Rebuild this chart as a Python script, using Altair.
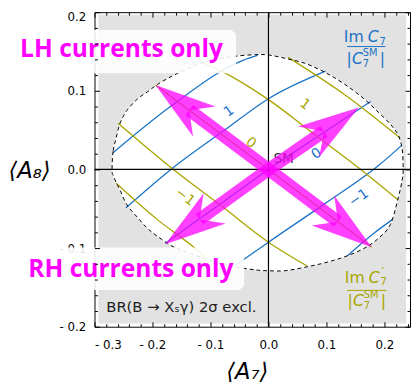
import math
import altair as alt
import pandas as pd

FONT = "DejaVu Sans"
X_DOMAIN = [-0.3, 0.2441]
Y_DOMAIN = [-0.2, 0.2]
WIDTH, HEIGHT = 321, 320

# excluded (grey) region and the allowed ellipse
excl_x = [-0.2932, 0.2373]
excl_y = [-0.196, 0.1966]

ell_x = [-0.2695, -0.2678, -0.2627, -0.2559, -0.2441, -0.2254, -0.2085, -0.1915, -0.1661, -0.1407,
         -0.1153, -0.0898, -0.0559, -0.0220, 0.0, 0.0288, 0.0627, 0.0966, 0.1305, 0.1644,
         0.1898, 0.2102, 0.2237, 0.2305, 0.2322]
ell_top = [0.0075, 0.0238, 0.04, 0.0588, 0.075, 0.09, 0.0988, 0.1081, 0.1188, 0.1275,
           0.1356, 0.14, 0.1441, 0.146, 0.1456, 0.1413, 0.135, 0.1238, 0.1088, 0.09,
           0.0725, 0.0575, 0.0438, 0.0263, 0.0075]
ell_bot = [-0.0038, -0.0075, -0.0163, -0.0263, -0.045, -0.0613, -0.075, -0.085, -0.0975, -0.105,
           -0.1119, -0.1175, -0.1238, -0.1278, -0.1288, -0.1288, -0.1244, -0.1188, -0.1113, -0.1006,
           -0.0875, -0.07, -0.0363, -0.0138, -0.0038]

# contours of Im C7 / |C7^SM| (blue)
blue_levels = [2, 1, 0, -1, -2]
blue_x = [[-0.268, -0.169, -0.044, -0.019],
          [-0.2458, -0.1661, -0.078, 0.0, 0.0983],
          [-0.178, -0.0898, 0.0, 0.0915, 0.1763],
          [-0.0559, 0.0, 0.0966, 0.1898, 0.2288],
          [0.1356, 0.1814, 0.2136]]
blue_y = [[0.0213, 0.08, 0.1388, 0.145],
          [-0.0488, 0.0013, 0.0488, 0.09, 0.125],
          [-0.0938, -0.0475, 0.0, 0.045, 0.0863],
          [-0.1213, -0.0925, -0.0438, 0.005, 0.03],
          [-0.11, -0.0813, -0.0638]]

# contours of Im C7' / |C7^SM| (olive)
olive_levels = [2, 1, 0, -1, -2]
olive_x = [[0.0339, 0.1339, 0.2271],
           [-0.1153, -0.0847, 0.0, 0.0763, 0.1525, 0.2237],
           [-0.1949, 0.0, 0.178],
           [-0.2593, -0.1661, -0.0814, 0.0, 0.0661],
           [-0.2627, -0.1915, -0.1288, -0.1085]]
olive_y = [[0.1425, 0.0938, 0.04],
           [0.1363, 0.1263, 0.0888, 0.0463, 0.0038, -0.0388],
           [0.1075, 0.0, -0.0988],
           [0.0588, 0.0013, -0.0463, -0.0925, -0.1225],
           [-0.0175, -0.0638, -0.0988, -0.1113]]

# contour labels
blue_lab_text = ["1", "0", "\u22121"]
blue_lab_x = [-0.0678, 0.0831, 0.1559]
blue_lab_y = [0.0738, 0.02, -0.0363]
olive_lab_text = ["0", "1", "\u22121"]
olive_lab_x = [-0.0305, 0.0627, -0.1441]
olive_lab_y = [0.0338, 0.0825, -0.035]

# arrow tips (NW, NE, SW, SE), all arrows start at the SM point (0, 0)
arrow_tip_x = [-0.1949, 0.1559, -0.178, 0.178]
arrow_tip_y = [0.1075, 0.0788, -0.095, -0.0988]

# tick values
x_major = [-0.3, -0.2, -0.1, 0.0, 0.1, 0.2]
x_minor = [round(-0.3 + 0.02 * i, 2) for i in range(28) if i % 5 != 0]
y_major = [-0.2, -0.1, 0.0, 0.1, 0.2]
y_minor = [round(-0.2 + 0.02 * i, 2) for i in range(21) if i % 5 != 0]

SX = alt.Scale(domain=X_DOMAIN, nice=False, zero=False)
SY = alt.Scale(domain=Y_DOMAIN, nice=False, zero=False)
BLUE = "#1a73c6"
OLIVE = "#a8a500"
MAG = "#ff00ff"


def X(f, axis=None):
    return alt.X(f, type="quantitative", scale=SX, axis=axis)


def Y(f, axis=None):
    return alt.Y(f, type="quantitative", scale=SY, axis=axis)


def note(x, y, text, size=14, color="black", dx=0, dy=0, align="left", style="normal",
         weight="normal", angle=0, baseline="alphabetic", font=FONT):
    df = pd.DataFrame({"x": [x], "y": [y], "t": [text]})
    return alt.Chart(df).mark_text(
        fontSize=size, color=color, dx=dx, dy=dy, align=align, fontStyle=style,
        fontWeight=weight, angle=angle, baseline=baseline, font=font,
    ).encode(x=X("x"), y=Y("y"), text="t:N")


layers = []

# grey excluded region
gray_df = pd.DataFrame({"x": [excl_x[0]], "x2": [excl_x[1]], "y": [excl_y[0]], "y2": [excl_y[1]]})
layers.append(alt.Chart(gray_df).mark_rect(color="#e2e2e2").encode(x=X("x"), x2="x2", y=Y("y"), y2="y2"))

# closed outline of the ellipse: upper half left->right, lower half right->left
out_x = ell_x + ell_x[::-1]
out_y = ell_top + ell_bot[::-1]
out_df = pd.DataFrame({"x": out_x, "y": out_y, "i": list(range(len(out_x)))})

# allowed ellipse (white fill)
layers.append(alt.Chart(out_df).mark_line(color="white", fill="white", fillOpacity=1, strokeWidth=1,
                                          interpolate="cardinal-closed")
              .encode(x=X("x"), y=Y("y"), order="i:Q"))

# contour lines
def contour_df(levels, xs, ys):
    rows = []
    for lev, xl, yl in zip(levels, xs, ys):
        for i, (a, b) in enumerate(zip(xl, yl)):
            rows.append({"lev": lev, "i": i, "x": a, "y": b})
    return pd.DataFrame(rows)

for lv, xs, ys, col in [(blue_levels, blue_x, blue_y, BLUE), (olive_levels, olive_x, olive_y, OLIVE)]:
    layers.append(
        alt.Chart(contour_df(lv, xs, ys)).mark_line(color=col, strokeWidth=1.3, interpolate="monotone")
        .encode(x=X("x"), y=Y("y"), detail="lev:N", order="i:Q")
    )

layers.append(alt.Chart(out_df).mark_line(color="black", strokeWidth=1, strokeDash=[4, 3],
                                          interpolate="cardinal-closed")
              .encode(x=X("x"), y=Y("y"), order="i:Q"))

# zero lines
layers.append(alt.Chart(pd.DataFrame({"v": [0.0]})).mark_rule(color="black", strokeWidth=1.2).encode(y=Y("v")))
layers.append(alt.Chart(pd.DataFrame({"v": [0.0]})).mark_rule(color="black", strokeWidth=1.2).encode(x=X("v")))

# contour labels
for t, a, b in zip(blue_lab_text, blue_lab_x, blue_lab_y):
    layers.append(note(a, b, t, size=14, color=BLUE, align="center", baseline="middle", angle=325))
for t, a, b in zip(olive_lab_text, olive_lab_x, olive_lab_y):
    layers.append(note(a, b, t, size=14, color=OLIVE, align="center", baseline="middle", angle=37))

# SM label
layers.append(note(0.0085, 0.0088, "SM", size=14, color="#333333"))

# arrows
PX_X = WIDTH / (X_DOMAIN[1] - X_DOMAIN[0])
PX_Y = HEIGHT / (Y_DOMAIN[1] - Y_DOMAIN[0])
NOTCH = 43.0
rows = []
for tx, ty in zip(arrow_tip_x, arrow_tip_y):
    dxp, dyp = tx * PX_X, -ty * PX_Y
    L = math.hypot(dxp, dyp)
    f = 1 - NOTCH / L
    ang = math.degrees(math.atan2(dxp, -dyp)) % 360
    rows.append({"x0": 0.0, "y0": 0.0, "tx": tx, "ty": ty, "bx": tx * f, "by": ty * f, "ang": ang})
arrows = pd.DataFrame(rows)
layers.append(alt.Chart(arrows).mark_rule(color=MAG, opacity=0.75, strokeWidth=13, strokeCap="butt")
              .encode(x=X("x0"), y=Y("y0"), x2="bx", y2="by"))
HEAD = "M0,0 L0.613,2 L0,1.387 L-0.613,2 Z"
layers.append(alt.Chart(arrows).mark_point(shape=HEAD, filled=True, size=3844, color=MAG,
                                           opacity=0.75, strokeWidth=0)
              .encode(x=X("tx"), y=Y("ty"), angle=alt.Angle("ang:Q", scale=None)))

# white boxes with the LH / RH captions
box_df = pd.DataFrame({"x": [-0.4508, -0.4339], "x2": [-0.0559, -0.0419],
                       "y": [0.1225, -0.1533], "y2": [0.1775, -0.0991]})
layers.append(alt.Chart(box_df).mark_rect(color="white", opacity=0.88, cornerRadius=7)
              .encode(x=X("x"), x2="x2", y=Y("y"), y2="y2"))
layers.append(note(-0.2534, 0.1425, "LH currents only", size=25, color=MAG, align="center",
                   weight="bold", font="Open Sans"))
layers.append(note(-0.2373, -0.1363, "RH currents only", size=25, color=MAG, align="center",
                   weight="bold", font="Open Sans"))


# fraction legends
def fraction(cx, num_y, bar_y, den_y, xl, xr, color, prime):
    parts = [
        note(cx, num_y, "Im", size=16, color=color, dx=-2, align="right"),
        note(cx, num_y, "C", size=16, color=color, dx=2, align="left", style="italic"),
        note(cx, num_y, "7", size=10, color=color, dx=14, dy=3, align="left"),
    ]
    if prime:
        parts.append(note(cx, num_y, "\u2032", size=12, color=color, dx=15, dy=-7, align="left"))
    bar = pd.DataFrame({"x": [xl], "x2": [xr], "y": [bar_y]})
    parts.append(alt.Chart(bar).mark_rule(color=color, strokeWidth=1).encode(x=X("x"), x2="x2", y=Y("y")))
    parts += [
        note(cx, den_y, "|", size=16, color=color, dx=-17, align="center"),
        note(cx, den_y, "C", size=16, color=color, dx=-14, align="left", style="italic"),
        note(cx, den_y, "SM", size=10, color=color, dx=-3, dy=-8, align="left"),
        note(cx, den_y, "7", size=10, color=color, dx=-3, dy=3, align="left"),
        note(cx, den_y, "|", size=16, color=color, dx=17, align="center"),
    ]
    return parts

layers += fraction(0.1678, 0.1625, 0.1563, 0.1338, 0.1356, 0.2017, BLUE, False)
layers += fraction(0.1695, -0.1438, -0.1538, -0.1738, 0.1356, 0.2034, OLIVE, True)

layers.append(note(-0.2797, -0.1813, "BR(B \u2192 X\u209b\u03b3) 2\u03c3 excl.", size=15, color="#222222"))

# axes (ticks pointing inwards on all four sides)
dummy = pd.DataFrame({"x": [0.0], "y": [0.0]})
LABEL_EXPR = "datum.value < -0.001 ? '- ' + format(-datum.value, '.1f') : format(datum.value, '.1f')"


def tick_axis(orient, values, size):
    return alt.Axis(orient=orient, values=values, labels=False, tickSize=size, offset=-size,
                    domain=False, grid=False, title=None, tickColor="black", tickWidth=1, zindex=1)


x_lab = alt.Axis(orient="bottom", values=x_major, ticks=False, domain=False, grid=False,
                 labelExpr=LABEL_EXPR, labelFont=FONT, labelFontSize=12, labelColor="black",
                 labelPadding=13, title="\u27e8A\u2087\u27e9", titleFont=FONT, titleFontSize=23,
                 titleFontStyle="italic", titleFontWeight="normal", titleColor="black",
                 titleX=155, titleY=53, titleAlign="center", titleBaseline="alphabetic", zindex=0)
y_lab = alt.Axis(orient="left", values=y_major[:-1], ticks=False, domain=False, grid=False,
                 labelExpr=LABEL_EXPR, labelFont=FONT, labelFontSize=12, labelColor="black",
                 labelPadding=9,
                 title="\u27e8A\u2088\u27e9", titleFont=FONT, titleFontSize=23,
                 titleFontStyle="italic", titleFontWeight="normal", titleColor="black",
                 titleAngle=0, titleX=-88, titleY=168, titleAlign="left", titleBaseline="alphabetic",
                 zindex=0)
y_lab_top = alt.Axis(orient="left", values=y_major[-1:], ticks=False, domain=False, grid=False,
                     labelExpr=LABEL_EXPR, labelFont=FONT, labelFontSize=12, labelColor="black",
                     labelPadding=9, labelOffset=4, labelBaseline="middle", title=None, zindex=0)

axis_pairs = [
    (x_lab, y_lab),
    (None, y_lab_top),
    (tick_axis("bottom", x_major, 5), tick_axis("left", y_major, 5)),
    (tick_axis("top", x_major, 5), tick_axis("right", y_major, 5)),
    (tick_axis("bottom", x_minor, 3), tick_axis("left", y_minor, 3)),
    (tick_axis("top", x_minor, 3), tick_axis("right", y_minor, 3)),
]
for xa, ya in axis_pairs:
    layers.append(alt.Chart(dummy).mark_point(opacity=0).encode(x=X("x", xa), y=Y("y", ya)))

chart = (
    alt.layer(*layers)
    .resolve_axis(x="independent", y="independent")
    .properties(width=WIDTH, height=HEIGHT, autosize=alt.AutoSizeParams(type="none"),
                padding={"left": 88, "top": 1, "right": 1, "bottom": 54})
    .configure_view(stroke="black", strokeWidth=1)
)

chart.save("out.html", embed_options={"renderer": "svg", "actions": False})
